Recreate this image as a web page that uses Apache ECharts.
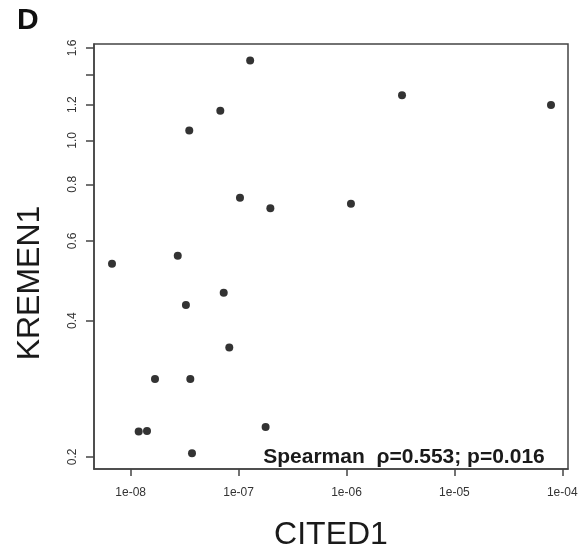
<!DOCTYPE html>
<html><head><meta charset="utf-8">
<script src="https://cdn.jsdelivr.net/npm/echarts@6/dist/echarts.min.js"></script>
<style>html,body{margin:0;padding:0;background:#fff}#c{width:588px;height:552px}</style>
</head><body><div id="c"></div>
<script>
// CITED1 expression (x) and KREMEN1 expression (y)
var cited1 = [1.28e-7, 6.77e-8, 3.49e-8, 1.03e-7, 1.97e-7, 6.71e-9, 2.73e-8, 7.28e-8, 3.25e-8, 8.2e-8,
              1.68e-8, 3.57e-8, 1.186e-8, 1.416e-8, 1.78e-7, 3.70e-8, 3.27e-6, 7.86e-5, 1.10e-6];
var kremen1 = [1.502, 1.163, 1.052, 0.747, 0.708, 0.534, 0.556, 0.461, 0.433, 0.349,
               0.297, 0.297, 0.2274, 0.2282, 0.2329, 0.2038, 1.259, 1.198, 0.725];
var xTicks = [1e-8, 1e-7, 1e-6, 1e-5, 1e-4];
var yTicks = [0.2, 0.4, 0.6, 0.8, 1.0, 1.2, 1.4, 1.6];
var yTickLabels = [0.2, 0.4, 0.6, 0.8, 1.0, 1.2, 1.6];
var xRange = [4.57e-9, 1.13e-4];
var yRange = [0.188, 1.633];

var pts = cited1.map(function (x, i) { return [x, kremen1[i]]; });
var chart = echarts.init(document.getElementById('c'), null, {renderer: 'canvas'});
var axisCol = '#444';
chart.setOption({
  animation: false,
  backgroundColor: '#fff',
  grid: {left: 94, top: 44, right: 20, bottom: 83, show: true, borderColor: axisCol, borderWidth: 1.5, backgroundColor: 'transparent'},
  xAxis: {
    type: 'log', logBase: 10, min: xRange[0], max: xRange[1],
    splitLine: {show: false}, minorTick: {show: false},
    axisLine: {show: true, lineStyle: {color: axisCol, width: 1.5}},
    axisTick: {show: true, length: 7, lineStyle: {color: axisCol, width: 1.5}, customValues: xTicks},
    axisLabel: {customValues: xTicks, color: '#333', fontSize: 12, fontFamily: 'Liberation Sans, Arial, sans-serif', margin: 18,
      formatter: function (v) { var e = Math.round(Math.log10(v)); return '1e-' + (e > -10 ? '0' : '') + (-e); }}
  },
  yAxis: {
    type: 'log', logBase: 10, min: yRange[0], max: yRange[1],
    splitLine: {show: false}, minorTick: {show: false},
    axisLine: {show: true, lineStyle: {color: axisCol, width: 1.5}},
    axisTick: {show: true, length: 8, lineStyle: {color: axisCol, width: 1.5}, customValues: yTicks},
    axisLabel: {customValues: yTickLabels, rotate: 90, color: '#333', fontSize: 12, fontFamily: 'Liberation Sans, Arial, sans-serif', margin: 15,
      formatter: function (v) { return (+v).toFixed(1); }}
  },
  series: [{
    type: 'scatter', data: pts, symbol: 'circle', symbolSize: 8,
    itemStyle: {color: '#000'}
  }],
  graphic: [
    {type: 'text', left: 17, top: 6, style: {text: 'D', font: 'bold 30px Liberation Sans, Arial, sans-serif', fill: '#111'}},
    {type: 'text', x: 30, y: 283, rotation: Math.PI / 2,
      style: {text: 'KREMEN1', font: '32px Liberation Sans, Arial, sans-serif', fill: '#1a1a1a', textAlign: 'center', textVerticalAlign: 'middle'}},
    {type: 'text', x: 331, y: 535,
      style: {text: 'CITED1', font: '32px Liberation Sans, Arial, sans-serif', fill: '#1a1a1a', textAlign: 'center', textVerticalAlign: 'middle'}},
    {type: 'text', x: 404, y: 457,
      style: {text: 'Spearman  \u03c1=0.553; p=0.016', font: 'bold 21px Liberation Sans, Arial, sans-serif', fill: '#1a1a1a', textAlign: 'center', textVerticalAlign: 'middle'}}
  ]
});
</script></body></html>
